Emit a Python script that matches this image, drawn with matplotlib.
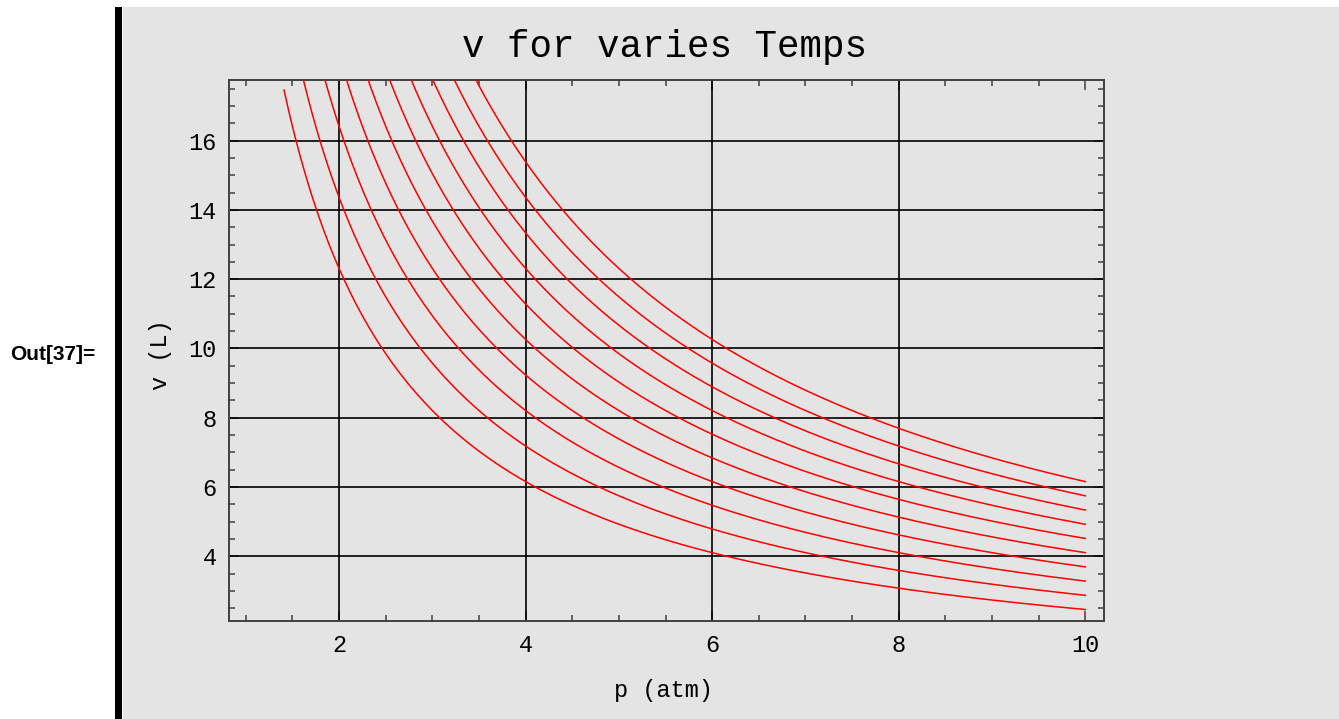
import numpy as np
import matplotlib.pyplot as plt
from matplotlib.patches import Rectangle
from matplotlib.ticker import MultipleLocator

# ideal gas: one mole, temperatures in K
temps = [300, 350, 400, 450, 500, 550, 600, 650, 700, 750]
R = 0.08206
n_mol = 1.0
p_start = 1.41
p_end = 10.0

x_ticks = [2, 4, 6, 8, 10]
y_ticks = [4, 6, 8, 10, 12, 14, 16]
x_grid = [2, 4, 6, 8]
y_grid = [4, 6, 8, 10, 12, 14, 16]

mono = 'Liberation Mono'
bg = '#e4e4e4'

fig = plt.figure(figsize=(13.39, 7.19), dpi=100)
fig.patch.set_facecolor('white')

# notebook cell background and bracket
fig.patches.append(Rectangle((123 / 1339, 0), 1, 1 - 7 / 719, transform=fig.transFigure,
                             facecolor=bg, edgecolor='none', zorder=-2))
fig.patches.append(Rectangle((115 / 1339, 0), 7 / 1339, 1 - 7 / 719, transform=fig.transFigure,
                             facecolor='black', edgecolor='none', zorder=-1))

ax = fig.add_axes([229 / 1339, 1 - 621 / 719, (1104 - 229) / 1339, (621 - 80) / 719])
ax.set_facecolor(bg)

p = np.linspace(p_start, p_end, 400)
for T in temps:
    v = n_mol * R * T / p
    ax.plot(p, v, color='red', lw=1.1, zorder=3)

for gx in x_grid:
    ax.axvline(gx, color='black', lw=1.2, zorder=2)
for gy in y_grid:
    ax.axhline(gy, color='black', lw=1.2, zorder=2)

ax.set_xlim(0.82, 10.2)
ax.set_ylim(2.13, 17.75)

ax.set_xticks(x_ticks)
ax.set_yticks(y_ticks)
ax.xaxis.set_minor_locator(MultipleLocator(0.5))
ax.yaxis.set_minor_locator(MultipleLocator(0.5))
ax.tick_params(which='both', direction='in', top=True, right=True, color='#404040', width=1.1)
ax.tick_params(which='major', length=7, labelsize=17, pad=9)
ax.tick_params(which='minor', length=4.5)
for lab in ax.get_xticklabels() + ax.get_yticklabels():
    lab.set_fontfamily(mono)

for s in ax.spines.values():
    s.set_color('#404040')
    s.set_linewidth(1.4)

fig.text(665 / 1339, 1 - 47 / 719, 'v for varies Temps', family=mono, fontsize=27,
         ha='center', va='center')
fig.text(663 / 1339, 1 - 690 / 719, 'p (atm)', family=mono, fontsize=17,
         ha='center', va='center')
fig.text(160 / 1339, 1 - 355 / 719, 'v (L)', family=mono, fontsize=17,
         ha='center', va='center', rotation=90)
fig.text(53 / 1339, 1 - 355 / 719, 'Out[37]=', family='Liberation Sans', fontweight='bold',
         fontsize=15, ha='center', va='center')

fig.savefig('out.png', dpi=100, facecolor=fig.get_facecolor())
